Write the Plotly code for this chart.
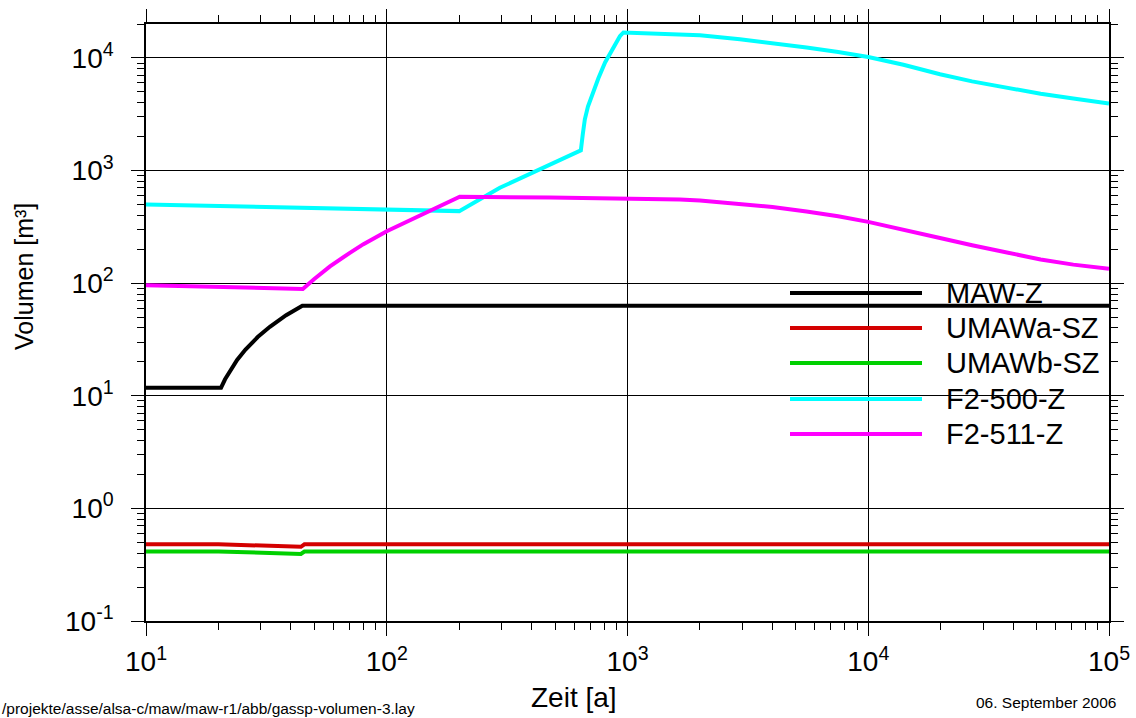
import math
import plotly.graph_objects as go

# ---- data ----
series_names = ["MAW-Z", "UMAWa-SZ", "UMAWb-SZ", "F2-500-Z", "F2-511-Z"]
series_colors = ["#000000", "#d40000", "#00d000", "#00ffff", "#ff00ff"]

maw_x = [10, 20.5, 21.3, 22.2, 23.9, 25.9, 29.1, 32.7, 38.2, 44.6, 100000]
maw_y = [11.8, 11.8, 14.0, 16.2, 20.8, 25.7, 33.2, 41.0, 51.9, 63.1, 63.1]

umawa_x = [10, 20, 44, 45.5, 100000]
umawa_y = [0.48, 0.48, 0.456, 0.48, 0.48]

umawb_x = [10, 20, 44, 45.5, 100000]
umawb_y = [0.414, 0.414, 0.394, 0.414, 0.414]

f500_x = [10, 36, 100, 200, 295, 433, 640, 652, 665, 685, 709, 757, 807, 874, 930, 962,
          1122, 1652, 2000, 2930, 4000, 5540, 7500, 10000, 14000, 19860, 27000, 37580,
          52000, 71100, 100000]
f500_y = [500, 472, 448, 436, 703, 1023, 1510, 2100, 2850, 3700, 4590, 6600, 9120, 12590,
          15600, 16830, 16590, 16250, 15850, 14660, 13550, 12370, 11300, 10200, 8690, 7160,
          6190, 5450, 4800, 4360, 3930]

f511_x = [10, 44.8, 50, 58.1, 70, 80, 100, 137, 201, 476, 1000, 1650, 2000, 2930, 4000,
          5540, 7500, 10000, 14000, 19860, 27000, 37580, 52000, 71100, 100000]
f511_y = [96, 88.7, 109, 141, 185, 222, 289, 398, 585, 576, 565, 552, 541, 509, 475,
          432, 393, 350, 301, 252, 217, 186, 162, 146, 134]

x_tick_vals = [10, 100, 1000, 10000, 100000]
x_tick_text = ["10<sup>1</sup>", "10<sup>2</sup>", "10<sup>3</sup>", "10<sup>4</sup>", "10<sup>5</sup>"]
y_tick_vals = [0.1, 1, 10, 100, 1000, 10000]
y_tick_text = ["10<sup>-1</sup>", "10<sup>0</sup>", "10<sup>1</sup>", "10<sup>2</sup>",
               "10<sup>3</sup>", "10<sup>4</sup>"]

x_title = "Zeit [a]"
y_title = "Volumen [m³]"
footer_left = "/projekte/asse/alsa-c/maw/maw-r1/abb/gassp-volumen-3.lay"
footer_right = "06. September 2006"

# ---- layout geometry (pixels) ----
W, H = 1136, 718
L, R, T, B = 146, 27, 24, 97
PW, PH = W - L - R, H - T - B


def px(xp):
    return (xp - L) / PW


def py(yp):
    return (H - B - yp) / PH


FONT = "Liberation Sans, Arial, sans-serif"

fig = go.Figure()
all_x = [maw_x, umawa_x, umawb_x, f500_x, f511_x]
all_y = [maw_y, umawa_y, umawb_y, f500_y, f511_y]
for name, color, xs, ys in zip(series_names, series_colors, all_x, all_y):
    fig.add_trace(go.Scatter(x=xs, y=ys, mode="lines", name=name,
                             line=dict(color=color, width=4), showlegend=False,
                             hoverinfo="skip"))

minor_x = [d * 10 ** k for k in range(1, 5) for d in range(2, 10)]
minor_y = [d * 10 ** k for k in range(-1, 5) for d in range(2, 10) if d * 10 ** k <= 20000]

axis_common = dict(
    type="log", showline=True, linecolor="black", linewidth=1.5, mirror="allticks",
    ticks="outside", ticklen=13, tickwidth=1, tickcolor="black",
    showgrid=True, gridcolor="black", gridwidth=1, zeroline=False, automargin=False,
    tickfont=dict(family=FONT, size=28, color="black"),
)

fig.update_xaxes(**axis_common, range=[1, 5], tickmode="array",
                 tickvals=x_tick_vals, ticktext=x_tick_text, ticklabelstandoff=2,
                 minor=dict(ticks="outside", ticklen=7, tickwidth=1, tickcolor="black",
                            tickmode="array", tickvals=minor_x, showgrid=False))
fig.update_yaxes(**axis_common, range=[-1, math.log10(20000)], tickmode="array",
                 tickvals=y_tick_vals, ticktext=y_tick_text, ticklabelstandoff=12,
                 minor=dict(ticks="outside", ticklen=7, tickwidth=1, tickcolor="black",
                            tickmode="array", tickvals=minor_y, showgrid=False))

annotations = [
    dict(text=x_title, x=px(574), y=py(697), xref="paper", yref="paper",
         xanchor="center", yanchor="middle", showarrow=False,
         font=dict(family=FONT, size=28, color="black")),
    dict(text=y_title, x=px(24), y=py(277), xref="paper", yref="paper",
         xanchor="center", yanchor="middle", showarrow=False, textangle=-90,
         font=dict(family=FONT, size=25, color="black")),
    dict(text=footer_left, x=px(0), y=py(709), xref="paper", yref="paper",
         xanchor="left", yanchor="middle", showarrow=False,
         font=dict(family=FONT, size=15.5, color="black")),
    dict(text=footer_right, x=px(1118), y=py(702), xref="paper", yref="paper",
         xanchor="right", yanchor="middle", showarrow=False,
         font=dict(family=FONT, size=15.5, color="black")),
]
shapes = []
leg_rows = [293, 328, 363, 399, 434]
for name, color, ry in zip(series_names, series_colors, leg_rows):
    shapes.append(dict(type="line", xref="paper", yref="paper",
                       x0=px(790), x1=px(922), y0=py(ry), y1=py(ry),
                       line=dict(color=color, width=4), layer="above"))
    annotations.append(dict(text=name, x=px(944), y=py(ry), xref="paper", yref="paper",
                            xanchor="left", yanchor="middle", showarrow=False,
                            font=dict(family=FONT, size=29, color="black")))

fig.update_layout(
    width=W, height=H, autosize=False,
    margin=dict(l=L, r=R, t=T, b=B, pad=0, autoexpand=False),
    paper_bgcolor="white", plot_bgcolor="white",
    showlegend=False, annotations=annotations, shapes=shapes,
    font=dict(family=FONT, color="black"),
)

fig.write_html(
    "out.html",
    config={"displayModeBar": False},
    post_script="document.body.style.margin='0px';document.body.style.overflow='hidden';",
)
